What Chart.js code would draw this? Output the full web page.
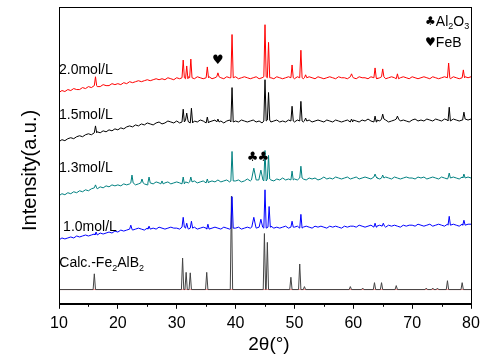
<!DOCTYPE html>
<html>
<head>
<meta charset="utf-8">
<script src="https://cdn.jsdelivr.net/npm/chart.js@4.4.1/dist/chart.umd.min.js"></script>
<style>
  html, body { margin: 0; padding: 0; background: #fff; }
  #wrap { width: 492px; height: 363px; }
</style>
</head>
<body>
<div id="wrap"><canvas id="xrdChart" width="492" height="363"></canvas></div>
<script>
// Scan grid of the measured patterns (2theta, degrees)
const scanStart = 10;
const scanStep = 0.5;

// Measured backgrounds, one value every 0.5 deg from 10 to 80 (offset units)
const base20 = [
    215,217,216,218,217,219,218,218,220,219,221,220,222,221,221,223,222,222,224,223,
    224,223,225,224,226,225,226,227,226,227,228,227,228,229,228,229,228,230,229,228,
    230,229,230,229,231,230,229,231,230,229,230,231,229,230,231,230,229,231,230,230,
    231,229,230,231,230,229,230,231,229,230,231,230,230,229,231,230,229,230,231,230,
    229,231,230,229,230,231,230,229,231,230,229,230,231,230,229,231,230,230,229,231,
    230,229,231,230,230,229,231,230,229,230,231,229,230,231,230,229,230,231,230,229,
    231,230,229,230,231,230,229,231,230,229,230,231,230,229,231,230,229,230,231,230,
    231
];
const base15 = [
    165,167,166,168,169,168,170,171,170,172,173,172,174,175,174,176,175,177,176,178,
    177,179,178,180,181,180,182,181,183,182,184,183,182,184,185,183,184,186,185,184,
    186,184,185,187,185,184,186,185,187,186,184,185,186,187,185,186,184,186,187,185,
    186,185,187,186,185,186,187,185,186,184,186,187,185,186,187,185,186,185,187,186,
    185,187,186,185,186,187,185,186,187,186,185,187,186,185,187,186,185,186,187,185,
    187,186,185,187,186,188,186,185,187,186,188,187,185,186,187,188,186,187,186,185,
    187,188,186,187,186,188,187,186,188,187,186,188,187,186,188,187,186,187,188,187,
    188
];
const base13 = [
    110,112,111,113,112,114,113,115,114,116,115,117,118,117,119,118,120,119,121,120,
    121,120,122,121,122,123,121,122,123,122,121,123,122,124,123,122,123,124,122,123,
    124,123,122,124,123,124,125,123,124,125,123,124,125,124,126,124,125,126,124,125,
    125,126,124,125,127,125,126,125,127,126,125,127,126,125,127,126,128,126,127,126,
    127,126,128,127,126,128,127,128,126,127,129,127,128,127,129,128,127,128,129,127,
    128,129,127,128,129,128,127,129,128,127,128,129,128,127,129,128,127,128,129,128,
    128,127,129,128,129,127,128,129,128,127,129,128,127,128,129,128,127,129,128,129,
    128
];
const base10 = [
    65,67,66,67,68,67,69,68,69,70,69,70,71,70,72,71,72,73,72,74,
    73,75,74,75,76,75,76,77,76,75,77,76,77,76,78,77,76,77,78,77,
    77,76,78,77,76,77,78,76,77,78,77,76,77,78,77,76,78,77,76,77,
    77,78,76,77,78,77,78,77,76,78,77,78,79,77,78,77,78,79,77,78,
    78,79,77,78,79,78,77,79,78,79,78,77,79,78,79,78,77,79,78,79,
    79,78,80,79,78,79,80,78,79,80,79,78,80,79,80,79,78,80,79,80,
    80,79,81,80,79,80,81,79,80,81,80,79,81,80,81,80,79,81,80,81,
    81
];
const calcBase = [14.5, 14.5];

// Reflections: [2theta, height above background, optional half width]
const peaks20 = [
    [16.2, 9], [31.1, 18], [31.7, 13], [32.4, 19], [35.2, 11], [37.0, 4],
    [39.4, 44], [45.0, 53], [45.6, 36], [49.6, 13], [51.1, 28], [51.9, 3],
    [59.7, 3], [63.7, 10], [65.0, 8], [67.5, 5], [76.2, 15], [78.7, 8]
];
const peaks15 = [
    [16.2, 7], [31.1, 13], [31.7, 7], [32.5, 15], [35.2, 6], [37.0, 3],
    [39.4, 35], [45.0, 42], [45.6, 28], [49.6, 15], [51.1, 20], [51.9, 3],
    [59.7, 3], [63.7, 6], [65.0, 5], [67.5, 3], [76.3, 14], [78.8, 7]
];
const peaks13 = [
    [16.2, 3], [22.4, 8], [24.1, 4], [25.3, 6], [27.5, 3], [31.1, 7],
    [32.4, 5], [35.2, 4], [39.4, 30], [43.1, 12, 0.4], [44.3, 10, 0.35],
    [45.0, 31], [45.6, 24], [49.6, 9], [51.1, 12], [63.7, 3], [65.0, 3],
    [76.3, 5], [78.8, 4]
];
const peaks10 = [
    [16.3, 3], [22.2, 4], [25.3, 3], [31.1, 10], [31.7, 5], [32.5, 7],
    [35.3, 5], [39.4, 32], [43.1, 10, 0.35], [44.3, 8, 0.3], [45.0, 39],
    [45.7, 21], [49.6, 6], [51.1, 14], [63.7, 4], [65.1, 3], [76.3, 9], [78.8, 5]
];
const peaksCalc = [
    [16.0, 16], [31.0, 32], [31.6, 17.5], [32.3, 17], [35.1, 17.5], [39.3, 95],
    [44.9, 57], [45.4, 48], [49.4, 12.5], [50.9, 26], [51.7, 3], [59.5, 3],
    [61.6, 1.5], [63.6, 7], [64.8, 7], [67.3, 4], [72.4, 1.5], [73.5, 1.5],
    [74.3, 1.5], [76.0, 9], [78.5, 7]
];

const xTicks = [10, 20, 30, 40, 50, 60, 70, 80];
const xMinorTicks = [15, 25, 35, 45, 55, 65, 75];

// Put the reflections onto the background
function buildTrace(base, peaks, start, step, halfWidth) {
    const pts = [];
    base.forEach((y, i) => {
        const x = start + i * step;
        if (peaks.some(p => Math.abs(x - p[0]) < (p[2] || halfWidth))) return;
        pts.push({ x: x, y: y });
    });
    peaks.forEach(p => {
        const w = p[2] || halfWidth;
        const b = base[Math.min(base.length - 1, Math.round((p[0] - start) / step))];
        pts.push({ x: p[0] - w, y: b }, { x: p[0], y: b + p[1] }, { x: p[0] + w, y: b });
    });
    pts.sort((a, b) => a.x - b.x);
    return pts;
}

const FONT = '"Liberation Sans", Arial, sans-serif';

// Frame, minor ticks and all the text
const decorations = {
    id: 'decorations',
    afterDraw(chart) {
        const { ctx, chartArea: a } = chart;
        const xs = chart.scales.x, ys = chart.scales.y;
        ctx.save();
        ctx.strokeStyle = '#000';
        ctx.lineWidth = 1;
        ctx.strokeRect(Math.round(a.left) + 0.5, Math.round(a.top) + 0.5,
            Math.round(a.right - a.left), Math.round(a.bottom - a.top));
        xMinorTicks.forEach(v => {
            const px = Math.round(xs.getPixelForValue(v)) + 0.5;
            ctx.beginPath();
            ctx.moveTo(px, a.bottom);
            ctx.lineTo(px, a.bottom + 3);
            ctx.stroke();
        });

        ctx.fillStyle = '#000';
        ctx.textBaseline = 'middle';
        ctx.textAlign = 'left';

        function at(x, y) { return [xs.getPixelForValue(x), ys.getPixelForValue(y)]; }

        function sub(parts, x, y, size) {
            let [px, py] = at(x, y);
            parts.forEach(([t, isSub]) => {
                ctx.font = (isSub ? Math.round(size * 0.65) : size) + 'px ' + FONT;
                ctx.fillText(t, px, py + (isSub ? size * 0.35 : 0));
                px += ctx.measureText(t).width;
            });
        }

        ctx.font = '14px ' + FONT;
        [['2.0mol/L', 10.0, 238], ['1.5mol/L', 10.0, 192],
         ['1.3mol/L', 10.0, 138], ['1.0mol/L', 10.7, 78]].forEach(([t, x, y]) => {
            const [px, py] = at(x, y);
            ctx.fillText(t, px, py);
        });
        sub([['Calc.-Fe', false], ['2', true], ['AlB', false], ['2', true]], 10.05, 41, 14);

        // phase markers
        ctx.font = '13px "DejaVu Sans", sans-serif';
        ctx.textAlign = 'center';
        let [hx, hy] = at(37.0, 247);
        ctx.fillText('\u2665', hx, hy);
        [[42.9, 149], [44.7, 149]].forEach(([x, y]) => {
            const [px, py] = at(x, y);
            ctx.fillText('\u2663', px, py);
        });

        // legend
        ctx.textAlign = 'left';
        let [lx, ly] = at(72.2, 287);
        ctx.font = '12px "DejaVu Sans", sans-serif';
        ctx.fillText('\u2663', lx, ly);
        lx += ctx.measureText('\u2663').width;
        const lv = xs.getValueForPixel(lx);
        sub([['Al', false], ['2', true], ['O', false], ['3', true]], lv, 287, 14);
        [lx, ly] = at(72.2, 265);
        ctx.font = '12px "DejaVu Sans", sans-serif';
        ctx.fillText('\u2665', lx, ly);
        lx += ctx.measureText('\u2665').width;
        ctx.font = '14px ' + FONT;
        ctx.fillText('FeB', lx, ly);

        // axis titles
        ctx.textAlign = 'center';
        ctx.font = '19px ' + FONT;
        ctx.fillText('2\u03b8(\u00b0)', (a.left + a.right) / 2 + 4, 345);
        ctx.translate(30, (a.top + a.bottom) / 2 + 15);
        ctx.rotate(-Math.PI / 2);
        ctx.font = '20px ' + FONT;
        ctx.fillText('Intensity(a.u.)', 0, 0);
        ctx.restore();
    }
};

const lineStyle = { showLine: true, pointRadius: 0, borderWidth: 1, tension: 0 };

new Chart(document.getElementById('xrdChart'), {
    type: 'scatter',
    data: {
        datasets: [
            { ...lineStyle, label: '2.0mol/L', data: buildTrace(base20, peaks20, scanStart, scanStep, 0.2), borderColor: '#ff0000' },
            { ...lineStyle, label: '1.5mol/L', data: buildTrace(base15, peaks15, scanStart, scanStep, 0.2), borderColor: '#000000' },
            { ...lineStyle, label: '1.3mol/L', data: buildTrace(base13, peaks13, scanStart, scanStep, 0.2), borderColor: '#008080' },
            { ...lineStyle, label: '1.0mol/L', data: buildTrace(base10, peaks10, scanStart, scanStep, 0.2), borderColor: '#0000ff' },
            { ...lineStyle, label: 'Calc', data: buildTrace(calcBase, peaksCalc, 10, 70, 0.2), borderColor: '#444444' },
            { ...lineStyle, label: 'baseline', data: [{ x: 10, y: calcBase[0] }, { x: 80, y: calcBase[1] }], borderColor: '#ff9090' }
        ]
    },
    options: {
        responsive: false,
        animation: false,
        layout: { padding: { left: 59, right: 21, top: 7, bottom: 25 } },
        plugins: { legend: { display: false }, tooltip: { enabled: false } },
        scales: {
            x: {
                type: 'linear',
                min: 10,
                max: 80,
                afterBuildTicks: (scale) => { scale.ticks = xTicks.map(v => ({ value: v })); },
                ticks: { color: '#000', font: { size: 16, family: FONT }, padding: 5, maxRotation: 0 },
                grid: { drawOnChartArea: false, tickLength: 5, color: '#000' },
                border: { color: '#000' }
            },
            y: { display: false, min: 0, max: 302 }
        }
    },
    plugins: [decorations]
});
</script>
</body>
</html>
